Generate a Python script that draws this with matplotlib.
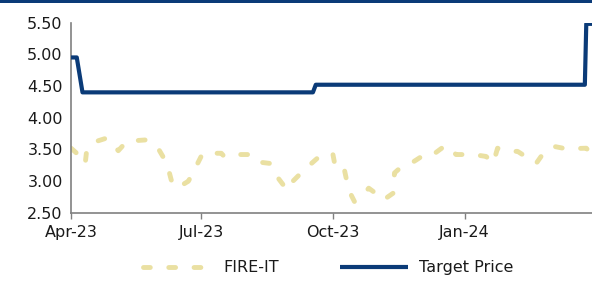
import matplotlib
matplotlib.use("Agg")
import matplotlib.pyplot as plt
import matplotlib.dates as mdates
from matplotlib.patches import Rectangle
import pandas as pd

# FIRE-IT price
fire_dates = [
    "2023-04-01", "2023-04-05", "2023-04-09", "2023-04-11", "2023-04-12",
    "2023-04-19", "2023-04-26", "2023-04-28", "2023-05-04", "2023-05-10",
    "2023-05-23", "2023-05-31", "2023-06-07", "2023-06-10", "2023-06-14",
    "2023-06-22", "2023-06-28", "2023-07-02", "2023-07-15", "2023-07-17",
    "2023-07-22", "2023-08-03", "2023-08-07", "2023-08-18", "2023-08-23",
    "2023-08-30", "2023-09-03", "2023-09-11", "2023-09-16", "2023-09-24",
    "2023-10-01", "2023-10-03", "2023-10-09", "2023-10-12", "2023-10-16",
    "2023-10-22", "2023-10-26", "2023-10-29", "2023-11-05", "2023-11-12",
    "2023-11-13", "2023-11-17", "2023-11-21", "2023-12-02", "2023-12-05",
    "2023-12-10", "2023-12-19", "2023-12-26", "2024-01-07", "2024-01-16",
    "2024-01-21", "2024-01-24", "2024-01-31", "2024-02-07", "2024-02-20",
    "2024-02-25", "2024-03-03", "2024-03-12", "2024-03-26", "2024-03-30",
]
fire_values = [
    3.52, 3.44, 3.45, 3.30, 3.50,
    3.63, 3.68, 3.65, 3.48, 3.63,
    3.65, 3.55, 3.28, 3.02, 2.89,
    3.00, 3.26, 3.44, 3.44, 3.39,
    3.42, 3.42, 3.31, 3.28, 3.07,
    2.86, 3.00, 3.18, 3.28, 3.44,
    3.42, 3.18, 3.18, 2.86, 2.68,
    2.78, 2.89, 2.84, 2.70, 2.81,
    3.13, 3.21, 3.23, 3.39, 3.44,
    3.42, 3.57, 3.42, 3.42, 3.39,
    3.28, 3.52, 3.47, 3.47, 3.28,
    3.44, 3.55, 3.51, 3.52, 3.42,
]

# Target price
target_dates = [
    "2023-04-01", "2023-04-05", "2023-04-09", "2023-09-17",
    "2023-09-19", "2024-03-25", "2024-03-26", "2024-03-31",
]
target_values = [4.95, 4.95, 4.40, 4.40, 4.52, 4.52, 5.48, 5.48]

yticks = [2.50, 3.00, 3.50, 4.00, 4.50, 5.00, 5.50]
xtick_dates = ["2023-04-01", "2023-07-01", "2023-10-01", "2024-01-01"]

NAVY = "#0B3B78"
KHAKI = "#EAE0A2"
TEXT = "#1A1A1A"

fig = plt.figure(figsize=(5.92, 2.82), dpi=100)
ax = fig.add_axes([0.12, 0.245, 0.88, 0.675])

ax.plot(pd.to_datetime(fire_dates), fire_values, color=KHAKI, linewidth=3.5,
        dashes=(1.4, 3.8), dash_capstyle="round", solid_capstyle="round",
        label="FIRE-IT", zorder=2)
ax.plot(pd.to_datetime(target_dates), target_values, color=NAVY, linewidth=3.0,
        solid_capstyle="butt", label="Target Price", zorder=3)

ax.set_xlim(pd.Timestamp("2023-04-01"), pd.Timestamp("2024-03-30"))
ax.set_ylim(2.5, 5.5)
ax.set_yticks(yticks)
ax.set_yticklabels([f"{v:.2f}" for v in yticks])
ax.set_xticks(pd.to_datetime(xtick_dates))
ax.xaxis.set_major_formatter(mdates.DateFormatter("%b-%y"))

for side in ["top", "right"]:
    ax.spines[side].set_visible(False)
for side in ["left", "bottom"]:
    ax.spines[side].set_color("#808080")
    ax.spines[side].set_linewidth(1.2)

ax.tick_params(axis="y", length=0, pad=6, labelsize=11.5, labelcolor=TEXT)
ax.tick_params(axis="x", length=4, width=1, color="#808080", pad=5,
               labelsize=11.5, labelcolor=TEXT)

leg = fig.legend(loc="center", bbox_to_anchor=(0.555, 0.05), ncol=2,
                 frameon=False, fontsize=11.5, handlelength=4.3,
                 handletextpad=0.7, columnspacing=3.8)
for t in leg.get_texts():
    t.set_color(TEXT)

# top border bar
fig.add_artist(Rectangle((0, 1 - 3 / 282), 1, 3 / 282, transform=fig.transFigure,
                         facecolor=NAVY, edgecolor="none"))

fig.savefig("out.png", dpi=100)
